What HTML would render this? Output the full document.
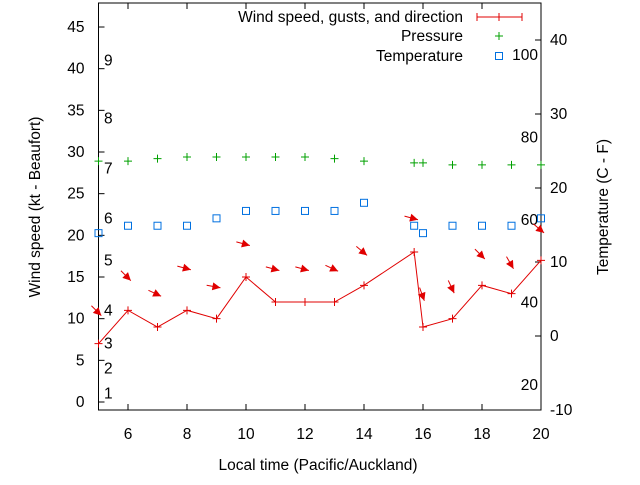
<!DOCTYPE html>
<html><head><meta charset="utf-8">
<style>
html,body{margin:0;padding:0;background:#fff;}
svg text{font-family:"Liberation Sans",sans-serif;font-size:15.5px;fill:#000;}
</style></head>
<body>
<svg id="chart" width="640" height="480" xmlns="http://www.w3.org/2000/svg"></svg>
<script>
const times = [5,6,7,8,9,10,11,12,13,14,15.7,16,17,18,19,20];
const windSpeed = [7,11,9,11,10,15,12,12,12,14,18,9,10,14,13,17];
const gustLevel = [10.7,14.9,12.9,16,13.8,18.9,15.9,15.9,15.9,17.9,22,12.6,13.5,17.5,16.4,20.6];
const windDirDeg = [45,45,25,15,10,15,15,15,25,40,15,70,65,45,60,40];
const pressure = [28.9,28.9,29.2,29.4,29.4,29.4,29.4,29.4,29.2,28.9,28.7,28.7,28.45,28.45,28.45,28.45];
const temperature = [13.9,14.9,14.9,14.9,15.9,16.9,16.9,16.9,16.9,18.0,14.9,13.9,14.9,14.9,14.9,15.9];
const leftTicks = [0,5,10,15,20,25,30,35,40,45];
const rightTicks = [-10,0,10,20,30,40];
const xTicks = [6,8,10,12,14,16,18,20];
const beaufortLabels = ["1","2","3","4","5","6","7","8","9"];
const beaufortSpeeds = [1,4,7,11,17,22,28,34,41];
const humidityLabels = ["20","40","60","80","100"];
const humidityValues = [20,40,60,80,100];

const svg = document.getElementById('chart');
const NS = 'http://www.w3.org/2000/svg';
const L=98.5, R=541, T=3, B=410;
const xS = t => L + (t-5)*(R-L)/15;
const yL = v => 402 - v*8.333;
const yR = v => 336 - v*7.4;
const yH = h => 385 - (h-20)*4.125;

function mk(tag, attrs, parent){
  const e = document.createElementNS(NS, tag);
  for (const k in attrs) e.setAttribute(k, attrs[k]);
  (parent||svg).appendChild(e);
  return e;
}
function txt(x,y,s,anchor,parent){
  const e = mk('text',{x:x,y:y,'text-anchor':anchor||'start'},parent);
  e.textContent = s; return e;
}

const frame = mk('rect',{x:L,y:T,width:R-L,height:B-T,fill:'none',stroke:'#000','stroke-width':1});



const gl = mk('g',{});


leftTicks.forEach(v=>{
  mk('line',{x1:L,y1:yL(v),x2:L+6,y2:yL(v),stroke:'#000'},gl);
  txt(L-14,yL(v)+5,String(v),'end',gl);
});
const gr = mk('g',{});


rightTicks.forEach(v=>{
  mk('line',{x1:R-6,y1:yR(v),x2:R,y2:yR(v),stroke:'#000'},gr);
  txt(R+9,yR(v)+5,String(v),'start',gr);
});
const gx = mk('g',{});


xTicks.forEach(v=>{
  mk('line',{x1:xS(v),y1:B,x2:xS(v),y2:B-6,stroke:'#000'},gx);
  mk('line',{x1:xS(v),y1:T,x2:xS(v),y2:T+6,stroke:'#000'},gx);
  txt(xS(v),B+29,String(v),'middle',gx);
});

const xt = txt(318,470,'Local time (Pacific/Auckland)','middle');


const ylt = txt(0,0,'Wind speed (kt - Beaufort)','middle');
ylt.setAttribute('transform','translate(40,207) rotate(-90)');


const yrt = txt(0,0,'Temperature (C - F)','middle');
yrt.setAttribute('transform','translate(608,207) rotate(-90)');



beaufortLabels.forEach((s,i)=>{
  const t = txt(104,yL(beaufortSpeeds[i])+5,s,'start');
  
  
});
humidityLabels.forEach((s,i)=>{
  const t = txt(538,yH(humidityValues[i])+5,s,'end');
  
  
});

pressure.forEach((p,i)=>{
  const x=xS(times[i]), y=yL(p);
  const g = mk('path',{d:`M${x-4},${y}H${x+4}M${x},${y-4}V${y+4}`,stroke:'#00a000','stroke-width':1});
  
  
});
temperature.forEach((v,i)=>{
  const r = mk('rect',{x:xS(times[i])-3.5,y:yR(v)-3.5,width:7,height:7,fill:'none',stroke:'#0070e0','stroke-width':1});
  
  
});
const wl = mk('polyline',{points:windSpeed.map((v,i)=>xS(times[i])+','+yL(v)).join(' '),fill:'none',stroke:'#e00000','stroke-width':1});


windSpeed.forEach((v,i)=>{
  const x=xS(times[i]), y=yL(v);
  const m = mk('path',{d:`M${x-4},${y}H${x+4}M${x},${y-4}V${y+4}`,stroke:'#e00000','stroke-width':1});
  
  
});
gustLevel.forEach((g,i)=>{
  const a = windDirDeg[i]*Math.PI/180;
  const hx = xS(times[i])+4*Math.cos(a), hy = yL(g)+4*Math.sin(a);
  const tx = hx-14*Math.cos(a), ty = hy-14*Math.sin(a);
  const grp = mk('g',{});
  
  
  mk('line',{x1:tx,y1:ty,x2:hx,y2:hy,stroke:'#e00000','stroke-width':1},grp);
  const bx = hx-8*Math.cos(a), by = hy-8*Math.sin(a);
  const px = -Math.sin(a)*4, py = Math.cos(a)*4;
  mk('polygon',{points:`${hx},${hy} ${bx+px},${by+py} ${bx-px},${by-py}`,fill:'#e00000'},grp);
});

const lg = mk('g',{});


txt(463,22,'Wind speed, gusts, and direction','end',lg);
mk('path',{d:'M477,17H522M477,13V21M522,13V21M499,13V21',stroke:'#e00000','stroke-width':1},lg);
txt(463,41,'Pressure','end',lg);
mk('path',{d:'M495,36H503M499,32V40',stroke:'#00a000','stroke-width':1},lg);
txt(463,61,'Temperature','end',lg);
mk('rect',{x:495.5,y:52.5,width:7,height:7,fill:'none',stroke:'#0070e0'},lg);
</script>
</body></html>
